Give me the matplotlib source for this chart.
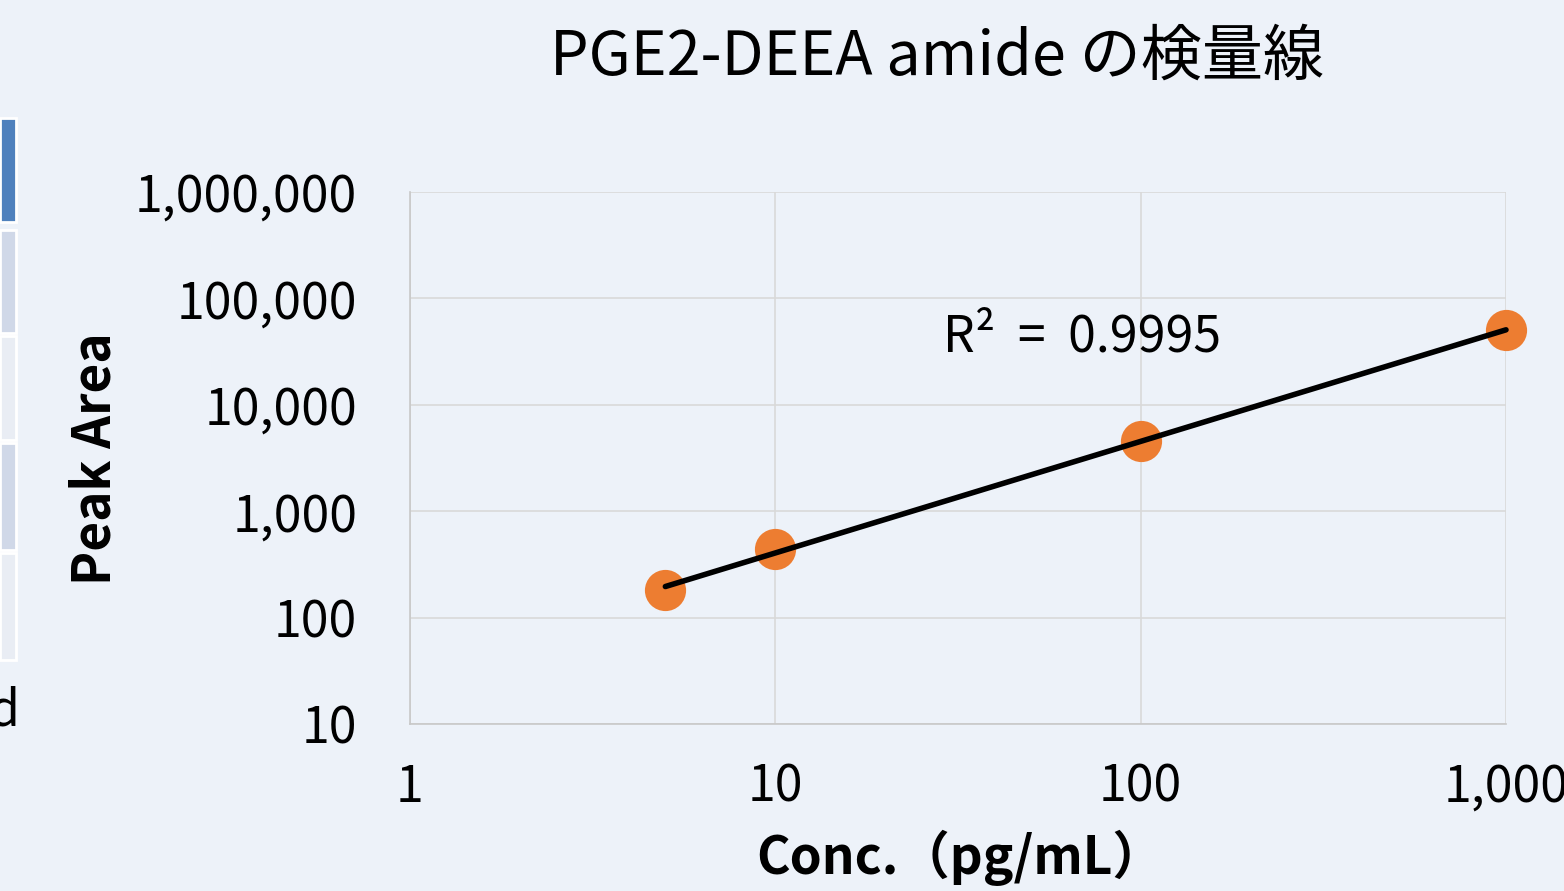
import numpy as np
import matplotlib.pyplot as plt
from matplotlib.patches import Rectangle
from matplotlib.ticker import FixedLocator, FuncFormatter

plt.rcParams['font.family'] = ['Noto Sans CJK JP', 'DejaVu Sans']

conc = [5, 10, 100, 1000]
peak_area = [182, 440, 4550, 50000]
r2_label = "R²  =  0.9995"
title = "PGE2-DEEA amide の検量線"
x_ticks = [1, 10, 100, 1000]
y_ticks = [10, 100, 1000, 10000, 100000, 1000000]

bg = "#edf2f9"
fig = plt.figure(figsize=(15.64, 8.91), dpi=100, facecolor=bg)

# pieces of a neighbouring table cut off at the left edge
W, H = 1564, 891
cells = [(118, 222, "#4f81bd"), (230, 333, "#d0d8e8"), (336, 440, "#e9edf4"),
         (443, 550, "#d0d8e8"), (553, 660, "#e9edf4")]
for top, bot, col in cells:
    fig.patches.append(Rectangle((0, 1 - bot / H), 16 / W, (bot - top) / H,
                                 transform=fig.transFigure, facecolor=col,
                                 edgecolor="white", linewidth=2))
fig.text(19 / W, 1 - 712 / H, "d", ha="right", va="center", fontsize=36)

ax = fig.add_axes([410 / W, 1 - 724 / H, 1096 / W, 532 / H])
ax.set_facecolor("none")
ax.set_xscale("log")
ax.set_yscale("log")
ax.set_xlim(1, 1000)
ax.set_ylim(10, 1000000)

ax.xaxis.set_major_locator(FixedLocator(x_ticks))
ax.yaxis.set_major_locator(FixedLocator(y_ticks))
ax.xaxis.set_minor_locator(FixedLocator([]))
ax.yaxis.set_minor_locator(FixedLocator([]))
fmt = FuncFormatter(lambda v, p: f"{int(round(v)):,}")
ax.xaxis.set_major_formatter(fmt)
ax.yaxis.set_major_formatter(fmt)
ax.tick_params(length=0, labelsize=36, colors="black")
ax.tick_params(axis="y", pad=38)
ax.tick_params(axis="x", pad=27)

ax.grid(True, color="#d9d9d9", linewidth=1.2)
for side in ["top", "right"]:
    ax.spines[side].set_visible(False)
for side in ["left", "bottom"]:
    ax.spines[side].set_color("#c8c8c8")
    ax.spines[side].set_linewidth(1.2)

ax.scatter(conc, peak_area, s=880, color="#ed7d31", zorder=3, linewidths=0,
           clip_on=False)

# power trendline fitted in log space
k, b = np.polyfit(np.log10(conc), np.log10(peak_area), 1)
xf = np.logspace(np.log10(min(conc)), np.log10(max(conc)), 200)
ax.plot(xf, 10 ** (k * np.log10(xf) + b), color="black", linewidth=4,
        solid_capstyle="round", zorder=4, clip_on=False)

ax.text(0.486, 0.726, r2_label, transform=ax.transAxes, fontsize=36,
        ha="left", va="center")

fig.text(937 / W, 1 - 57 / H, title, ha="center", va="center", fontsize=44)
fig.text(95 / W, 1 - 459 / H, "Peak Area", rotation=90, ha="center",
         va="center", fontsize=37, fontweight="bold")
fig.text(960 / W, 1 - 858 / H, "Conc.（pg/mL）", ha="center", va="center",
         fontsize=37, fontweight="bold")

fig.savefig("out.png", dpi=100, facecolor=bg)
